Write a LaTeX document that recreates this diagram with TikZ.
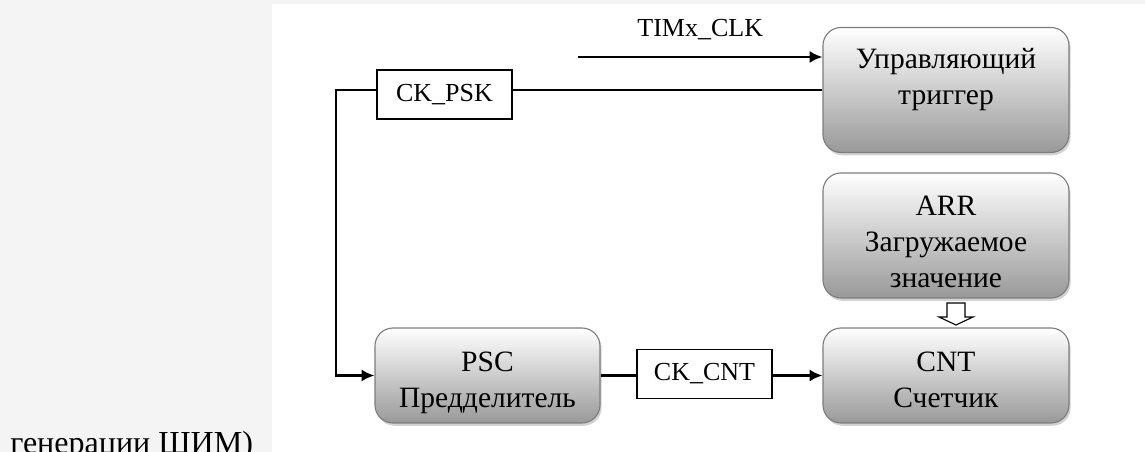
\documentclass[tikz,border=0pt]{standalone}
\usepackage{fontspec}
\setmainfont{Liberation Serif}
\usetikzlibrary{arrows.meta, calc, positioning, shadows}
\definecolor{pagegray}{RGB}{244,244,244}
\definecolor{boxedge}{RGB}{125,125,125}

\begin{document}
\begin{tikzpicture}[
  block/.style={draw=boxedge, line width=0.8pt, rounded corners=0.45cm, top color=white, bottom color=black!40,
    drop shadow={shadow xshift=0.04cm, shadow yshift=-0.07cm, opacity=0.35},
    minimum width=6.15cm, inner sep=0pt},
  blocktext/.style={align=center, inner sep=0pt, font=\fontsize{21}{25.6}\selectfont},
  sig/.style={draw, line width=1.2pt, fill=white, minimum width=3.375cm, minimum height=1.23cm,
    inner sep=0pt, font=\fontsize{18.5}{22}\selectfont},
  wire/.style={line width=1.6pt},
  feed/.style={wire, -{Latex[length=0.32cm, width=0.3cm]}}
]
% Page
\useasboundingbox (0,0) rectangle (28.625,-11.3);
\fill[pagegray] (0,0) rectangle (28.625,-11.3);
\fill[white] (6.8,-0.11) rectangle (28.625,-11.3);

% Text below the figure
\begin{scope}
\clip (0,0) rectangle (28.625,-11.3);
\node[anchor=base west, inner sep=0pt, font=\fontsize{22.8}{27}\selectfont] (tail) at (0.25,-11.35) {генерации ШИМ)};
\end{scope}

% Blocks
\node[block, minimum height=3.125cm, label={[blocktext, yshift=0.27cm]center:Управляющий\\триггер}] (trig) at (23.65,-2.25) {};
\node[block, minimum height=3.125cm, label={[blocktext, yshift=-0.15cm]center:ARR\\Загружаемое\\значение}] (arr) at (23.65,-5.8875) {};
\node[block, minimum height=2.375cm, label={[blocktext, yshift=-0.1cm]center:CNT\\Счетчик}] (cnt) at (23.65,-9.3875) {};
\node[block, minimum width=5.625cm, minimum height=2.375cm, label={[blocktext, yshift=-0.18cm]center:PSC\\Предделитель}] (psc) at (12.1875,-9.3875) {};

% Clock signals
\node[sig] (ckpsk) at (11.1125,-2.3625) {CK\_PSK};
\node[sig] (ckcnt) at (17.6125,-9.35) {CK\_CNT};

\coordinate (clkin) at (14.45,-1.425);
\coordinate (bend) at (8.4,-2.25);

% Connections
\draw[feed] (clkin) -- node[midway, above=0.4cm, inner sep=0pt, font=\fontsize{18.5}{22}\selectfont] (clklbl) {TIMx\_CLK} (clkin -| trig.west);
\draw[wire] (trig.west) -- (ckpsk.east |- trig.west);
\draw[feed] (ckpsk.west |- bend) -- (bend) |- (psc.west);
\draw[wire] (psc.east) -- (ckcnt.west |- psc.east);
\draw[feed] (ckcnt.east |- cnt.west) -- (cnt.west);

% Load arrow
\coordinate (ld) at ($(arr.south)!0.5!(cnt.north)+(0.25,0)$);
\draw[line width=0.8pt, fill=white] ($(ld)+(-0.225,0.25)$) -- ($(ld)+(0.225,0.25)$) -- ($(ld)+(0.225,-0.1)$)
  -- ($(ld)+(0.425,-0.1)$) -- ($(ld)+(0,-0.3)$) -- ($(ld)+(-0.425,-0.1)$) -- ($(ld)+(-0.225,-0.1)$) -- cycle;
\end{tikzpicture}
\end{document}
